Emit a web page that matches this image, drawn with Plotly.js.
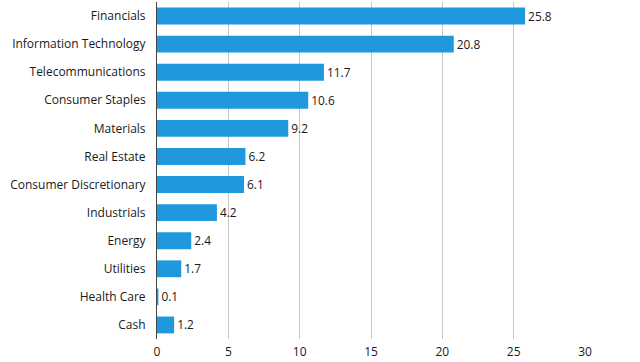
<!DOCTYPE html>
<html>
<head>
<meta charset="utf-8">
<script src="https://cdn.plot.ly/plotly-3.0.1.min.js"></script>
<style>html,body{margin:0;padding:0;background:#fff;}#chart{width:640px;height:362px;}</style>
</head>
<body>
<div id="chart"></div>
<script>
const sectors = ["Financials","Information Technology","Telecommunications","Consumer Staples","Materials","Real Estate","Consumer Discretionary","Industrials","Energy","Utilities","Health Care","Cash"];
const weights = [25.8,20.8,11.7,10.6,9.2,6.2,6.1,4.2,2.4,1.7,0.1,1.2];
const xTicks = [0,5,10,15,20,25,30];

const trace = {
  type: 'bar',
  orientation: 'h',
  y: sectors,
  x: weights,
  text: weights.map(v => v.toFixed(1)),
  textposition: 'outside',
  cliponaxis: false,
  textfont: {family: 'Open Sans', size: 12, color: '#1a1a1a'},
  marker: {color: '#1f98dd'},
  width: 0.6,
  hoverinfo: 'none'
};

const layout = {
  width: 640, height: 362,
  margin: {l: 157, r: 55, t: 2, b: 23, pad: 0},
  paper_bgcolor: '#fff', plot_bgcolor: '#fff',
  showlegend: false,
  font: {family: 'Open Sans', size: 12, color: '#1a1a1a'},
  xaxis: {
    range: [0, 30],
    tickvals: xTicks,
    ticktext: xTicks.map(String),
    showgrid: true, gridcolor: '#c8c8c8', gridwidth: 1,
    zeroline: false,
    showline: false,
    ticks: 'outside', ticklen: 2, tickcolor: 'rgba(0,0,0,0)',
    tickfont: {family: 'Open Sans', size: 12, color: '#1a1a1a'},
    fixedrange: true
  },
  yaxis: {
    type: 'category',
    autorange: 'reversed',
    showgrid: false,
    showline: true, linecolor: '#444', linewidth: 1,
    zeroline: false,
    ticks: 'outside', ticklen: 8, tickcolor: 'rgba(0,0,0,0)',
    tickfont: {family: 'Open Sans', size: 12, color: '#1a1a1a'},
    fixedrange: true
  }
};

Plotly.newPlot('chart', [trace], layout, {displayModeBar: false, staticPlot: true});
</script>
</body>
</html>
